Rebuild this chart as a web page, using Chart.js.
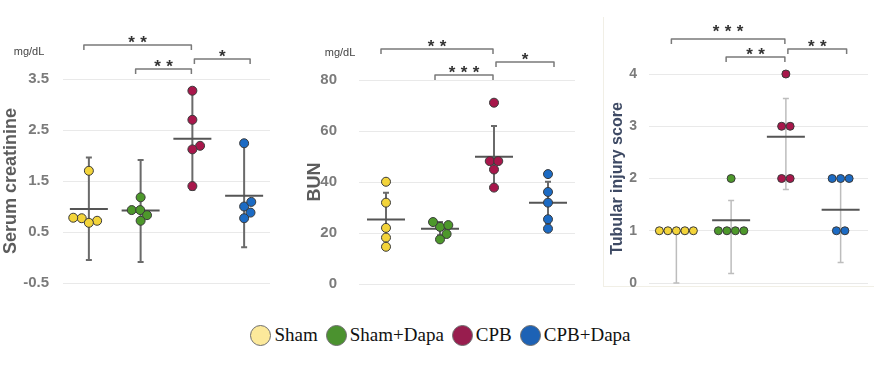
<!DOCTYPE html>
<html>
<head>
<meta charset="utf-8">
<script src="https://cdn.jsdelivr.net/npm/chart.js@4.4.0/dist/chart.umd.min.js"></script>
<style>
  body { margin: 0; background: #fff; width: 881px; height: 370px; position: relative; overflow: hidden; }
  .panel { position: absolute; top: 0; height: 300px; }
  .frame { position: absolute; left: 603px; top: 17px; width: 270px; height: 269px;
           border-left: 1px solid #f1efe6; border-bottom: 1px solid #f1efe6; }
  #legend { position: absolute; left: 0; width: 881px; top: 324px; display: flex; justify-content: center;
            font-family: "Liberation Serif", "Times New Roman", serif; font-size: 19px; color: #111; }
  #legend .item { display: flex; align-items: center; margin: 0 4px; }
  #legend .dot { width: 19px; height: 19px; border-radius: 50%; border: 1.5px solid #6e6e6e; margin-right: 3px; }
</style>
</head>
<body>
<div class="frame"></div>
<div class="panel" style="left:0;width:282px"><canvas id="crea"></canvas></div>
<div class="panel" style="left:304px;width:280px"><canvas id="bun"></canvas></div>
<div class="panel" style="left:608px;width:273px"><canvas id="tis"></canvas></div>
<div id="legend"></div>
<script>
// 그룹
const groups = ['Sham', 'Sham+Dapa', 'CPB', 'CPB+Dapa'];
const pointColors = ['#f3d43a', '#4d982b', '#a8174b', '#1c6bc4'];
const legendColors = ['#fce99b', '#4b922f', '#981d4e', '#1d62b5'];

// Serum creatinine (mg/dL)
const creaSham = [1.70, 0.77, 0.78, 0.72, 0.68];
const creaShamDapa = [1.18, 0.93, 0.93, 0.83, 0.72];
const creaCPB = [3.27, 2.70, 2.19, 2.12, 1.40];
const creaCPBDapa = [2.24, 1.00, 1.09, 0.88, 0.77];
const creaMean = [0.95, 0.92, 2.33, 1.21];
const creaLow = [-0.05, -0.09, 1.33, 0.20];
const creaHigh = [1.96, 1.91, 3.32, 2.22];
const creaTicks = [-0.5, 0.5, 1.5, 2.5, 3.5];

// BUN (mg/dL)
const bunSham = [40.1, 31.9, 22.0, 18.2, 14.6];
const bunShamDapa = [22.4, 24.3, 23.1, 19.6, 17.5];
const bunCPB = [71.1, 48.2, 48.2, 44.9, 37.8];
const bunCPBDapa = [43.1, 36.1, 31.9, 25.4, 21.7];
const bunMean = [25.3, 21.7, 49.9, 31.9];
const bunLow = [14.6, 19.1, 37.8, 23.7];
const bunHigh = [35.8, 24.3, 62.0, 40.1];
const bunTicks = [0, 20, 40, 60, 80];

// Tubular injury score
const tisSham = [1, 1, 1, 1, 1];
const tisShamDapa = [2, 1, 1, 1, 1];
const tisCPB = [4, 3, 3, 2, 2];
const tisCPBDapa = [2, 2, 2, 1, 1];
const tisMean = [1.0, 1.2, 2.8, 1.4];
const tisLow = [0, 0.18, 1.79, 0.39];
const tisHigh = [1.0, 1.58, 3.53, 2.0];
const tisTicks = [0, 1, 2, 3, 4];

// 비교 괄호: [그룹a, 그룹b, 별 개수]
const creaSig = [[0, 2, 2], [1, 2, 2], [2, 3, 1]];
const bunSig = [[0, 2, 2], [1, 2, 3], [2, 3, 1]];
const tisSig = [[0, 2, 3], [1, 2, 2], [2, 3, 2]];

// 점이 겹치지 않도록 가로로 펼치기 (beeswarm)
function swarm(values, yPix, unitPx, d) {
    const order = values.map((v, i) => i).sort((a, b) => values[a] - values[b]);
    const placed = [];
    const out = new Array(values.length).fill(0);
    let k = 0;
    while (k < order.length) {
        // 같은 값은 한 줄로 묶어서 가운데 정렬
        const block = [order[k]];
        while (k + block.length < order.length && values[order[k + block.length]] === values[order[k]]) {
            block.push(order[k + block.length]);
        }
        const y = yPix(values[order[k]]);
        const rel = block.map((_, i) => (i - (block.length - 1) / 2) * d);
        const cands = [0];
        placed.forEach(p => {
            const dy = Math.abs(p.y - y);
            if (dy < d) {
                const dx = Math.sqrt(d * d - dy * dy);
                rel.forEach(r => { cands.push(p.x + dx - r, p.x - dx - r); });
            }
        });
        cands.sort((a, b) => Math.abs(a) - Math.abs(b) || b - a);
        let c = 0;
        for (const cand of cands) {
            const ok = rel.every(r => placed.every(p => Math.hypot(p.x - (cand + r), p.y - y) >= d - 0.01));
            if (ok) { c = cand; break; }
        }
        block.forEach((idx, i) => {
            const x = c + rel[i];
            placed.push({ x: x, y: y });
            out[idx] = x / unitPx;
        });
        k += block.length;
    }
    return out;
}

function makePanel(id, cfg) {
    const datasets = cfg.values.map((vals, g) => ({
        label: groups[g],
        data: vals.map(v => ({ x: g, y: v })),
        backgroundColor: pointColors[g],
        borderColor: '#3a3a3a',
        borderWidth: 1,
        pointRadius: cfg.radius,
        pointHoverRadius: cfg.radius,
        clip: false
    }));

    const extras = {
        id: 'extras',
        beforeDatasetsDraw(chart) {
            const c = chart.ctx, xs = chart.scales.x, ys = chart.scales.y;
            c.save();
            c.lineCap = 'butt';
            for (let g = 0; g < groups.length; g++) {
                const x = xs.getPixelForValue(g);
                const lo = ys.getPixelForValue(cfg.low[g]);
                const hi = ys.getPixelForValue(cfg.high[g]);
                c.strokeStyle = cfg.errColor;
                c.lineWidth = cfg.errWidth;
                c.beginPath();
                c.moveTo(x, lo); c.lineTo(x, hi);
                c.moveTo(x - 3, lo); c.lineTo(x + 3, lo);
                c.moveTo(x - 3, hi); c.lineTo(x + 3, hi);
                c.stroke();
                const m = ys.getPixelForValue(cfg.mean[g]);
                c.strokeStyle = '#555';
                c.lineWidth = 2;
                c.beginPath();
                c.moveTo(x - 19, m); c.lineTo(x + 19, m);
                c.stroke();
            }
            c.restore();
        },
        afterDraw(chart) {
            const c = chart.ctx, xs = chart.scales.x, area = chart.chartArea;
            c.save();
            c.strokeStyle = '#7a7a7a';
            c.lineWidth = 1.5;
            c.lineJoin = 'round';
            cfg.sig.forEach((s, i) => {
                const x1 = xs.getPixelForValue(s[0]) + (s[0] === 2 ? 2 : -5);
                const x2 = xs.getPixelForValue(s[1]) + (s[1] === 2 ? -1 : 6);
                const y = area.top + cfg.sigY[i];
                c.beginPath();
                c.moveTo(x1, y + 5); c.lineTo(x1, y); c.lineTo(x2, y); c.lineTo(x2, y + 5);
                c.stroke();
                c.fillStyle = '#333';
                c.font = 'bold 17px "Liberation Sans", Arial, sans-serif';
                c.textAlign = 'center';
                c.textBaseline = 'alphabetic';
                const mid = (x1 + x2) / 2;
                const gap = i === 0 ? cfg.starGapTop : 7;
                for (let k = 0; k < s[2]; k++) {
                    const sx = mid + (k - (s[2] - 1) / 2) * 12;
                    c.fillText('*', sx, y - gap + 10);
                }
            });
            if (cfg.unit) {
                c.fillStyle = '#444';
                c.font = '11px "Liberation Sans", Arial, sans-serif';
                c.textAlign = 'center';
                c.textBaseline = 'middle';
                c.fillText(cfg.unit, area.left + cfg.unitDx, area.top - 27);
            }
            c.restore();
        }
    };

    const chart = new Chart(document.getElementById(id), {
        type: 'scatter',
        data: { datasets: datasets },
        options: {
            responsive: true,
            maintainAspectRatio: false,
            animation: false,
            layout: { padding: { top: cfg.top, bottom: 300 - cfg.bottom, right: cfg.right, left: 0 } },
            plugins: { legend: { display: false }, tooltip: { enabled: false } },
            scales: {
                x: { type: 'linear', min: -0.5, max: 3.5, display: false },
                y: {
                    min: cfg.ticks[0],
                    max: cfg.ticks[cfg.ticks.length - 1],
                    afterBuildTicks: axis => { axis.ticks = cfg.ticks.map(v => ({ value: v })); },
                    afterFit: axis => { axis.width = cfg.axisWidth; },
                    border: { display: false },
                    // 눈금 표시는 투명하게 두고 라벨 간격으로만 사용
                    grid: { color: '#e9e9e9', lineWidth: 1, drawTicks: true, tickLength: cfg.tickPad, tickColor: 'rgba(0,0,0,0)' },
                    ticks: {
                        padding: 0,
                        color: '#7b7b7b',
                        font: { family: 'Liberation Sans', size: cfg.tickSize, weight: 'bold' }
                    },
                    title: {
                        display: true,
                        text: cfg.title,
                        color: cfg.titleColor,
                        padding: 0,
                        font: { family: 'Liberation Sans', size: cfg.titleSize, weight: 'bold' }
                    }
                }
            }
        },
        plugins: [extras]
    });

    // 레이아웃이 정해진 뒤 가로 위치 계산
    const xs = chart.scales.x, ys = chart.scales.y;
    const unitPx = xs.getPixelForValue(1) - xs.getPixelForValue(0);
    cfg.values.forEach((vals, g) => {
        const offs = swarm(vals, v => ys.getPixelForValue(v), unitPx, cfg.spread);
        chart.data.datasets[g].data = vals.map((v, i) => ({ x: g + offs[i], y: v }));
    });
    chart.update('none');
    return chart;
}

makePanel('crea', {
    values: [creaSham, creaShamDapa, creaCPB, creaCPBDapa],
    mean: creaMean, low: creaLow, high: creaHigh, ticks: creaTicks, sig: creaSig,
    sigY: [-34, -10, -20], starGapTop: 7,
    title: 'Serum creatinine', titleColor: '#5c5c5c', titleSize: 18,
    unit: 'mg/dL', unitDx: -34,
    top: 79, bottom: 283, right: 12, axisWidth: 63, tickPad: 14, tickSize: 15,
    radius: 4.5, spread: 8.5, errColor: '#6a6a6a', errWidth: 2
});

makePanel('bun', {
    values: [bunSham, bunShamDapa, bunCPB, bunCPBDapa],
    mean: bunMean, low: bunLow, high: bunHigh, ticks: bunTicks, sig: bunSig,
    sigY: [-31, -5, -18], starGapTop: 7,
    title: 'BUN', titleColor: '#5c5c5c', titleSize: 18,
    unit: 'mg/dL', unitDx: -19,
    top: 80, bottom: 284, right: 9, axisWidth: 55, tickPad: 22, tickSize: 15,
    radius: 4.5, spread: 8.5, errColor: '#6a6a6a', errWidth: 2
});

makePanel('tis', {
    values: [tisSham, tisShamDapa, tisCPB, tisCPBDapa],
    mean: tisMean, low: tisLow, high: tisHigh, ticks: tisTicks, sig: tisSig,
    sigY: [-35, -17, -25], starGapTop: 12,
    title: 'Tubular injury score', titleColor: '#3e4a64', titleSize: 16,
    unit: null,
    top: 74, bottom: 283, right: 13, axisWidth: 41, tickPad: 12, tickSize: 14,
    radius: 4, spread: 8.5, errColor: '#bdbdbd', errWidth: 1.5
});

// 범례
const legend = document.getElementById('legend');
groups.forEach((name, i) => {
    const item = document.createElement('div');
    item.className = 'item';
    const dot = document.createElement('span');
    dot.className = 'dot';
    dot.style.background = legendColors[i];
    const label = document.createElement('span');
    label.textContent = name;
    item.appendChild(dot);
    item.appendChild(label);
    legend.appendChild(item);
});
</script>
</body>
</html>
